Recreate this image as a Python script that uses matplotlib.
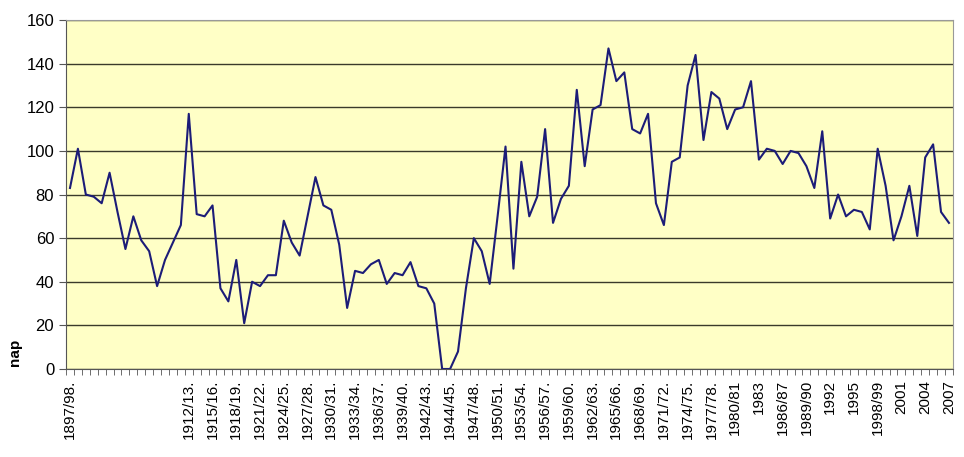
import matplotlib.pyplot as plt
import numpy as np

plt.rcParams['font.family'] = ['Liberation Sans', 'DejaVu Sans']

# napok száma idényenként (leolvasva az ábráról)
values = [83, 101, 80, 79, 76, 90, 72, 55, 70, 59,
          54, 38, 50, 58, 66, 117, 71, 70, 75, 37,
          31, 50, 21, 40, 38, 43, 43, 68, 58, 52,
          70, 88, 75, 73, 57, 28, 45, 44, 48, 50,
          39, 44, 43, 49, 38, 37, 30, 0, 0, 8,
          37, 60, 54, 39, 70, 102, 46, 95, 70, 79,
          110, 67, 78, 84, 128, 93, 119, 121, 147, 132,
          136, 110, 108, 117, 76, 66, 95, 97, 130, 144,
          105, 127, 124, 110, 119, 120, 132, 96, 101, 100,
          94, 100, 99, 93, 83, 109, 69, 80, 70, 73,
          72, 64, 101, 84, 59, 70, 84, 61, 97, 103,
          72, 67]

# minden harmadik kategória felirata (üresek nem látszanak)
tick_labels = ["1897/98.", "", "", "", "", "1912/13.", "1915/16.", "1918/19.",
               "1921/22.", "1924/25.", "1927/28.", "1930/31.", "1933/34.",
               "1936/37.", "1939/40.", "1942/43.", "1944/45.", "1947/48.",
               "1950/51.", "1953/54.", "1956/57.", "1959/60.", "1962/63.",
               "1965/66.", "1968/69.", "1971/72.", "1974/75.", "1977/78.",
               "1980/81", "1983", "1986/87", "1989/90", "1992", "1995",
               "1998/99", "2001", "2004", "2007"]

x = np.arange(len(values))

fig = plt.figure(figsize=(9.64, 4.57), dpi=100)
ax = fig.add_axes([0.0685, 0.1926, 0.92, 0.7635])
ax.set_facecolor('#FFFFC6')

ax.plot(x, values, color='#1C1C78', linewidth=1.5)

ax.set_ylim(0, 160)
ax.set_xlim(-0.5, len(values) - 0.5)
ax.set_yticks(np.arange(0, 161, 20))
ax.yaxis.grid(True, color='#3A3A2A', linewidth=1.0)
ax.set_axisbelow(True)

ax.set_xticks(x[::3])
ax.set_xticklabels(tick_labels, rotation=90, fontsize=11)
ax.set_xticks(np.arange(-0.5, len(values), 1), minor=True)
ax.tick_params(axis='x', which='major', length=0, pad=8)
ax.tick_params(axis='x', which='minor', length=4, color='#555555', direction='out')
ax.tick_params(axis='y', labelsize=12, length=5, color='#555555')

for s in ['top', 'right']:
    ax.spines[s].set_color('#999999')
for s in ['left', 'bottom']:
    ax.spines[s].set_color('#555555')

fig.text(0.016, 0.23, 'nap', rotation=90, fontsize=11, fontweight='bold',
         ha='center', va='center')

fig.savefig('out.png', dpi=100)
